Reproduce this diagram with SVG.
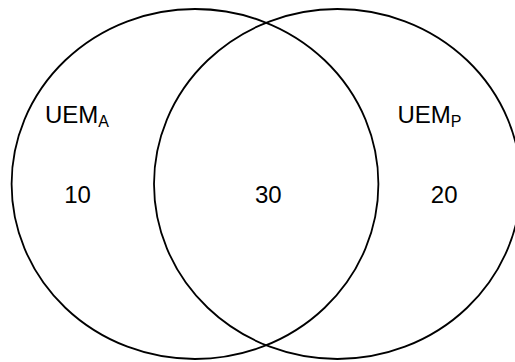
<svg xmlns="http://www.w3.org/2000/svg" width="515" height="362" viewBox="0 0 515 362">
<style>
.set{fill:none;stroke:#000;stroke-width:1.8}
.t{font-family:"Liberation Sans",Arial,sans-serif;font-size:24px;fill:#000}
.sub{font-size:16px}
</style>
<rect width="515" height="362" fill="#fff"/>
<g id="setA"><ellipse class="set" cx="195" cy="184" rx="183.4" ry="175"/>
<text class="t" x="45" y="123.3">UEM<tspan class="sub" dy="3.4">A</tspan></text>
<text class="t" x="77.5" y="203.3" text-anchor="middle">10</text></g>
<g id="setP"><ellipse class="set" cx="337.4" cy="184" rx="183.4" ry="175"/>
<text class="t" x="397.5" y="123.3">UEM<tspan class="sub" dy="3.4">P</tspan></text>
<text class="t" x="444.2" y="203.3" text-anchor="middle">20</text></g>
<g id="intersection"><text class="t" x="268.3" y="203.3" text-anchor="middle">30</text></g>
<g id="connectors"></g>
</svg>
